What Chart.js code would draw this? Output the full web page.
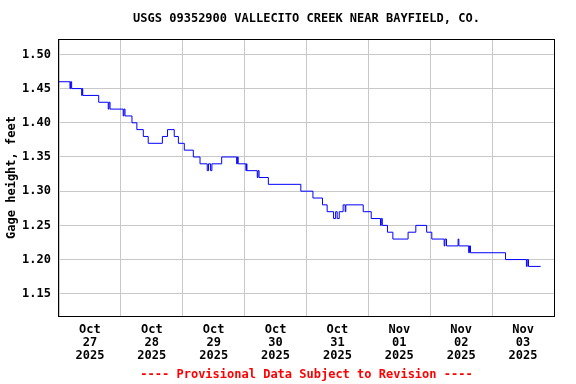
<!DOCTYPE html>
<html>
<head>
<meta charset="utf-8">
<script src="https://cdn.jsdelivr.net/npm/chart.js@4/dist/chart.umd.min.js"></script>
<style>
  html, body { margin: 0; padding: 0; background: #fff; }
  #wrap { width: 576px; height: 384px; }
</style>
</head>
<body>
<div id="wrap"><canvas id="gage"></canvas></div>
<script>
// ── DATA ──────────────────────────────────────────────────────────────────
// hours since Oct 27 2025 00:00, value starts at that hour
const hours = [
  0, 4.25, 4.5, 4.9, 8.8, 9.0, 9.2, 15.4, 19.1, 19.4, 19.8, 24.9, 25.2, 25.6,
  28.3, 30.2, 32.7, 34.6, 40.1, 42.1, 44.7, 46.3, 48.6, 52.1, 54.7,
  57.5, 58.0, 58.8, 59.3, 63.1, 68.9, 69.2, 69.5, 72.5, 72.7, 72.9,
  76.9, 77.2, 77.6, 81.2, 93.8, 98.5, 102.2, 104.0, 106.5, 107.3, 107.9, 108.7,
  110.2, 111.0, 111.25, 118.0, 121.1, 124.7, 125.0, 125.4, 127.4, 129.5,
  135.4, 138.4, 142.6, 144.6, 149.4, 149.7, 150.3, 154.8, 155.1,
  158.9, 159.2, 159.6, 173.2, 181.3, 181.6, 182.1, 186.8
];
const gageFt = [
  1.46, 1.45, 1.46, 1.45, 1.44, 1.45, 1.44, 1.43, 1.42, 1.43, 1.42, 1.41, 1.42, 1.41,
  1.40, 1.39, 1.38, 1.37, 1.38, 1.39, 1.38, 1.37, 1.36, 1.35, 1.34,
  1.33, 1.34, 1.33, 1.34, 1.35, 1.34, 1.35, 1.34, 1.33, 1.34, 1.33,
  1.32, 1.33, 1.32, 1.31, 1.30, 1.29, 1.28, 1.27, 1.26, 1.27, 1.26, 1.27,
  1.28, 1.27, 1.28, 1.27, 1.26, 1.25, 1.26, 1.25, 1.24, 1.23,
  1.24, 1.25, 1.24, 1.23, 1.22, 1.23, 1.22, 1.23, 1.22,
  1.21, 1.22, 1.21, 1.20, 1.19, 1.20, 1.19, 1.19
];

const months = ['Oct', 'Oct', 'Oct', 'Oct', 'Oct', 'Nov', 'Nov', 'Nov'];
const days   = ['27', '28', '29', '30', '31', '01', '02', '03'];
const years  = ['2025', '2025', '2025', '2025', '2025', '2025', '2025', '2025'];
const dayStarts = [0, 24, 48, 72, 96, 120, 144, 168, 192];
const yTicks = [1.15, 1.20, 1.25, 1.30, 1.35, 1.40, 1.45, 1.50];

const FONT = 'DejaVu Sans Mono, Liberation Mono, monospace';

// black frame round the plot area
const frame = {
  id: 'frame',
  afterDraw(chart) {
    const a = chart.chartArea, c = chart.ctx;
    c.save();
    c.strokeStyle = '#000';
    c.lineWidth = 1;
    c.strokeRect(Math.round(a.left) - 0.5, Math.round(a.top) + 0.5,
                 Math.round(a.right - a.left) + 1, Math.round(a.bottom - a.top));
    c.restore();
  }
};

new Chart(document.getElementById('gage'), {
  type: 'line',
  data: {
    datasets: [{
      data: hours.map((h, i) => ({ x: h, y: gageFt[i] })),
      borderColor: '#0000ff',
      borderWidth: 1,
      pointRadius: 0,
      stepped: true,
      fill: false
    }]
  },
  options: {
    responsive: true,
    maintainAspectRatio: false,
    animation: false,
    layout: { padding: { left: 0, right: 22, top: 0, bottom: 0 } },
    plugins: {
      legend: { display: false },
      tooltip: { enabled: false },
      title: {
        display: true,
        fullSize: false,
        text: 'USGS 09352900 VALLECITO CREEK NEAR BAYFIELD, CO.',
        color: '#000',
        font: { family: FONT, size: 12, weight: 'bold', lineHeight: 1.2 },
        padding: { top: 12, bottom: 12.6 }
      },
      subtitle: {
        display: true,
        fullSize: false,
        position: 'bottom',
        text: '---- Provisional Data Subject to Revision ----',
        color: '#ff0000',
        font: { family: FONT, size: 12, weight: 'bold', lineHeight: 1.2 },
        padding: { top: 4, bottom: 2 }
      }
    },
    scales: {
      x: {
        type: 'linear',
        min: 0, max: 192,
        afterBuildTicks: s => { s.ticks = dayStarts.map(v => ({ value: v })); },
        afterFit: s => { s.height = 0; },
        ticks: { display: false },
        grid: { color: '#c8c8c8', drawTicks: false },
        border: { display: false }
      },
      x2: {
        type: 'linear',
        position: 'bottom',
        min: 0, max: 192,
        afterBuildTicks: s => { s.ticks = days.map((d, i) => ({ value: 12 + 24 * i })); },
        afterFit: s => { s.height = 47.6; },
        ticks: {
          color: '#000',
          padding: 8,
          maxRotation: 0,
          autoSkip: false,
          font: { family: FONT, size: 12, weight: 'bold', lineHeight: 1.06 },
          callback: (v) => {
            const i = Math.round((v - 12) / 24);
            return [months[i], days[i], years[i]];
          }
        },
        grid: { display: false, drawTicks: false },
        border: { display: false }
      },
      y: {
        min: 1.1175, max: 1.5225,
        afterBuildTicks: s => { s.ticks = yTicks.map(v => ({ value: v })); },
        afterFit: s => { s.width = 59; },
        ticks: {
          color: '#000',
          padding: 8,
          font: { family: FONT, size: 12, weight: 'bold' },
          callback: v => v.toFixed(2)
        },
        grid: { color: '#c8c8c8', drawTicks: false },
        border: { display: false },
        title: {
          display: true,
          text: 'Gage height, feet',
          color: '#000',
          font: { family: FONT, size: 12, weight: 'bold', lineHeight: 1.2 },
          padding: { top: 5, bottom: 0 }
        }
      }
    }
  },
  plugins: [frame]
});
</script>
</body>
</html>
